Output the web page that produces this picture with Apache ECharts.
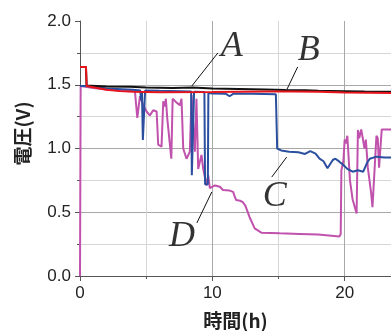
<!DOCTYPE html>
<html><head><meta charset="utf-8">
<script src="https://cdn.jsdelivr.net/npm/echarts@6/dist/echarts.min.js"></script>
<style>html,body{margin:0;padding:0;background:#fff}#c{width:391px;height:331px}</style>
</head><body><div id="c"></div>
<script>
// time (h), voltage (V)
const seriesA = [[0,1.64],[0.45,1.64],[0.5,1.495],[2,1.487],[3.8,1.484],[5,1.478],[7,1.475],[8.5,1.478],[10,1.47],[12,1.466],[14,1.462],[15.5,1.458],[17,1.457],[18,1.452],[20,1.45],[21.5,1.448],[23.5,1.446]];
const seriesB = [[0,1.64],[0.45,1.64],[0.5,1.49],[1,1.48],[2,1.46],[3,1.45],[4,1.445],[6,1.442],[10,1.443],[14,1.447],[16,1.448],[18,1.445],[20,1.44],[23.5,1.436]];
const seriesC = [[0,1.49],[0.5,1.49],[2,1.47],[4,1.46],[4.55,1.455],[4.62,1.38],[4.68,1.45],[4.75,1.067],[4.88,1.067],[4.92,1.455],[6,1.452],[8.4,1.448],[8.45,0.79],[8.58,0.79],[8.62,1.445],[9.4,1.443],[9.45,0.72],[9.66,0.72],[9.7,1.435],[10,1.432],[11,1.43],[11.3,1.41],[11.6,1.43],[13,1.43],[14.8,1.425],[14.9,1.0],[15.2,0.985],[15.8,0.975],[16.5,0.97],[17,0.957],[17.4,0.98],[17.8,0.96],[18.1,0.92],[18.4,0.9],[18.7,0.845],[19.1,0.91],[19.3,0.92],[19.6,0.897],[19.9,0.87],[20.2,0.84],[20.6,0.818],[21,0.83],[21.4,0.818],[21.7,0.89],[21.9,0.92],[22.4,0.936],[23,0.93],[23.5,0.93]];
const seriesD = [[0,0],[0.05,1.49],[1,1.475],[2,1.462],[3,1.455],[3.77,1.455],[4.15,1.45],[4.33,1.24],[4.53,1.41],[4.78,1.34],[5.03,1.29],[5.28,1.26],[5.53,1.3],[5.79,1.29],[5.91,1.03],[6.16,1.015],[6.29,1.37],[6.4,1.33],[6.49,1.39],[6.59,1.24],[6.9,0.92],[7.0,1.39],[7.3,1.36],[7.55,1.34],[7.67,1.39],[7.8,1.0],[8.05,0.92],[8.3,0.975],[8.43,1.42],[8.55,1.2],[8.68,0.975],[8.8,1.39],[8.93,0.84],[9.18,0.95],[9.31,0.84],[9.56,0.71],[9.69,0.79],[9.81,0.69],[10.19,0.71],[10.57,0.70],[10.8,0.675],[11.3,0.67],[11.57,0.66],[11.7,0.62],[11.8,0.596],[12.1,0.59],[12.3,0.58],[12.5,0.55],[12.8,0.465],[13.2,0.374],[13.7,0.34],[15.1,0.335],[16.6,0.33],[18,0.325],[19.6,0.31],[19.7,0.33],[19.75,0.83],[19.9,0.9],[20,1.07],[20.1,1.04],[20.2,1.1],[20.4,0.75],[20.6,0.6],[20.9,0.49],[21,1.145],[21.1,1.08],[21.25,1.15],[21.4,1.145],[21.5,1.0],[21.6,1.07],[21.75,0.85],[22,0.65],[22.1,0.54],[22.4,1.1],[22.5,1.08],[22.6,0.85],[22.8,1.15],[23.5,1.15]];
// annotation letters and leader lines (data units)
const labelNames = ['A','B','C','D'];
const labelPos = [[11.47,1.80],[17.28,1.77],[14.72,0.62],[7.70,0.31]];
const leaders = [[[8.45,1.49],[10.42,1.75]],[[15.62,1.46],[16.45,1.64]],[[14.49,0.776],[15.62,0.933]],[[8.83,0.416],[9.96,0.659]]];
const xTicks = {min:0, max:23.5, major:10, minor:5};
const yTicks = {min:0, max:2, major:0.5};

const font = "'Liberation Sans', Arial, sans-serif";
const chart = echarts.init(document.getElementById('c'), null, {renderer:'canvas'});
const lineS = (data, color) => ({type:'line', data, xAxisIndex:0, yAxisIndex:0, showSymbol:false, symbol:'none', animation:false, silent:true, lineStyle:{color, width:2}});
const series = [
  lineS(seriesD, '#c052ad'),
  lineS(seriesC, '#2a4f9f'),
  lineS(seriesA, '#111111'),
  lineS(seriesB, '#e8141c')
];
leaders.forEach(l => series.push({type:'line', data:l, showSymbol:false, symbol:'none', animation:false, silent:true, lineStyle:{color:'#111', width:1}}));
series.push({type:'scatter', symbolSize:0, animation:false, silent:true,
  data: labelNames.map((n,i)=>({name:n, value:labelPos[i]})),
  label:{show:true, position:'inside', formatter: p=>p.name, fontFamily:"'Liberation Serif','Times New Roman',serif", fontStyle:'italic', fontSize:36, color:'#000'}});

chart.setOption({
  animation:false,
  backgroundColor:'#fff',
  grid:{left:80, right:0, top:21, bottom:55, containLabel:false, outerBoundsMode:'none'},
  xAxis:[{
    type:'value', min:xTicks.min, max:xTicks.max, interval:xTicks.major, position:'bottom',
    axisLine:{show:true, onZero:false, lineStyle:{color:'#555', width:1}},
    axisTick:{show:true, length:5, lineStyle:{color:'#555'}},
    axisLabel:{fontSize:17, color:'#222', margin:9, fontFamily:font, showMaxLabel:false},
    splitLine:{show:true, showMaxLine:false, lineStyle:{color:'#a8a8a8', width:1}},
    name:'時間(h)', nameLocation:'middle', nameGap:35,
    nameTextStyle:{fontSize:19, color:'#222', fontFamily:"'Noto Sans CJK JP', sans-serif", fontWeight:'bold'}
  },{
    type:'value', min:xTicks.min, max:xTicks.max, interval:xTicks.minor, position:'bottom',
    axisLine:{show:false}, axisLabel:{show:false},
    axisTick:{show:true, length:3, lineStyle:{color:'#555'}},
    splitLine:{show:true, showMaxLine:false, lineStyle:{color:['rgba(0,0,0,0)','#d6d6d6'], width:1}}
  }],
  yAxis:{
    type:'value', min:yTicks.min, max:yTicks.max, interval:yTicks.major,
    axisLine:{show:true, lineStyle:{color:'#555', width:1}},
    axisTick:{show:true, length:5, lineStyle:{color:'#555'}},
    minorTick:{show:true, splitNumber:2, length:3, lineStyle:{color:'#555'}},
    minorSplitLine:{show:true, lineStyle:{color:'#d6d6d6', width:1}},
    splitLine:{show:true, showMaxLine:false, showMinLine:false, lineStyle:{color:'#a8a8a8', width:1}},
    axisLabel:{fontSize:17, color:'#222', margin:9, fontFamily:font, formatter:v=>v.toFixed(1)},
    name:'電圧(V)', nameLocation:'middle', nameGap:48, nameRotate:90,
    nameTextStyle:{fontSize:19, color:'#222', fontFamily:"'Noto Sans CJK JP', sans-serif", fontWeight:'bold', padding:[0,0,0,30]}
  },
  series
});
</script></body></html>
